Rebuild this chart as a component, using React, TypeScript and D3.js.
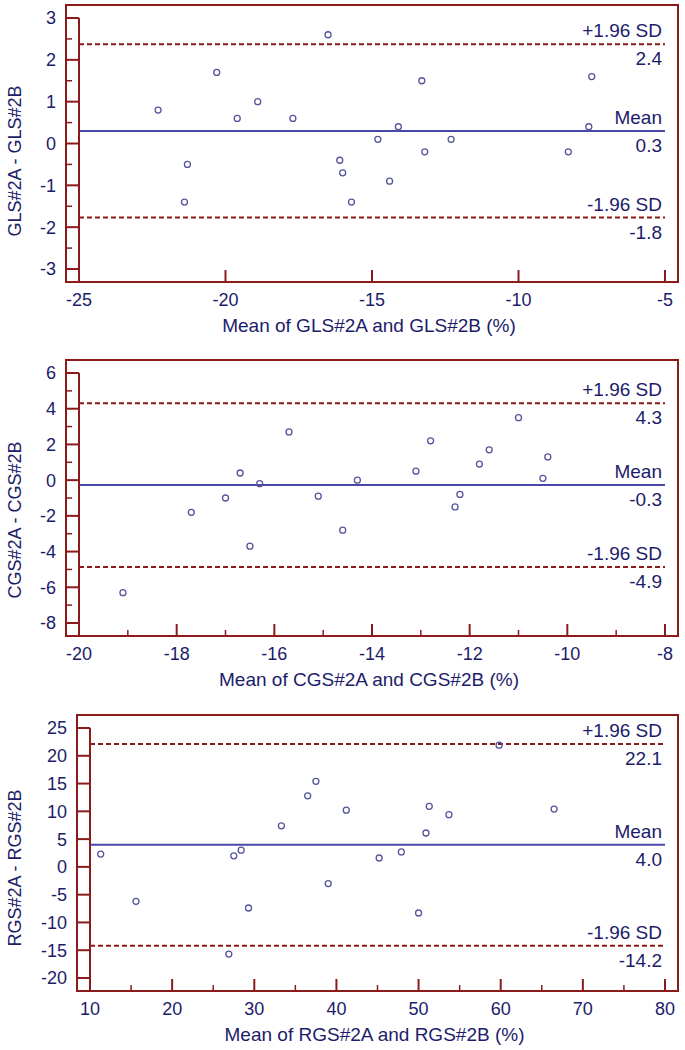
import React from "react";
import { scaleLinear, range } from "d3";

// GLS panel
const glsMean = [-16.5, -20.3, -13.3, -7.5, -22.3, -18.9, -19.6, -17.7, -14.1, -7.6, -14.8, -12.3, -13.2, -8.3, -21.3, -16.1, -16.0, -14.4, -21.4, -15.7];
const glsDiff = [2.6, 1.7, 1.5, 1.6, 0.8, 1.0, 0.6, 0.6, 0.4, 0.4, 0.1, 0.1, -0.2, -0.2, -0.5, -0.4, -0.7, -0.9, -1.4, -1.4];
const glsLimits = [2.37, 0.3, -1.77];

// CGS panel
const cgsMean = [-15.7, -11.0, -12.8, -11.6, -10.4, -11.8, -16.7, -13.1, -10.5, -14.3, -16.3, -17.0, -15.1, -12.2, -12.3, -17.7, -14.6, -16.5, -19.1];
const cgsDiff = [2.7, 3.5, 2.2, 1.7, 1.3, 0.9, 0.4, 0.5, 0.1, 0.0, -0.2, -1.0, -0.9, -0.8, -1.5, -1.8, -2.8, -3.7, -6.3];
const cgsLimits = [4.3, -0.27, -4.87];

// RGS panel
const rgsMean = [59.8, 37.5, 36.5, 41.2, 51.3, 66.5, 53.7, 33.3, 50.9, 11.3, 28.4, 27.5, 47.9, 45.2, 39.0, 15.6, 29.3, 50.0, 26.9];
const rgsDiff = [21.9, 15.4, 12.8, 10.2, 10.9, 10.4, 9.4, 7.4, 6.1, 2.3, 3.0, 2.0, 2.7, 1.6, -3.0, -6.2, -7.4, -8.3, -15.7];
const rgsLimits = [22.1, 4.0, -14.2];

const limitNames = ["+1.96 SD", "Mean", "-1.96 SD"];

const RED = "#8b1a1a";
const NAVY = "#1c1c6a";
const BLUE = "#4848a8";
const PT = "#55559c";
const FONT = "'Liberation Sans', Arial, sans-serif";

type PanelProps = {
  frame: { x0: number; y0: number; x1: number; y1: number };
  xDomain: [number, number];
  yDomain: [number, number];
  xMajor: number[];
  xMinor: number[];
  yMajor: number[];
  yMinor: number[];
  xs: number[];
  ys: number[];
  limits: number[];
  xTitle: string;
  yTitle: string;
  yTitleY: number;
};

const Panel = (p: PanelProps) => {
  const pad = 13;
  const { x0, y0, x1, y1 } = p.frame;
  const x = scaleLinear().domain(p.xDomain).range([x0 + pad, x1 - pad]);
  const y = scaleLinear().domain(p.yDomain).range([y1 - pad, y0 + pad]);
  const right = x(p.xDomain[1]);
  const left = x(p.xDomain[0]);

  return (
    <g fontFamily={FONT} fontSize={18} fill={NAVY}>
      {/* limit lines */}
      {p.limits.map((v, i) => (
        <g key={"l" + i} fontSize={19}>
          <line
            x1={left}
            x2={right}
            y1={y(v)}
            y2={y(v)}
            stroke={i === 1 ? BLUE : RED}
            strokeWidth={2}
            strokeDasharray={i === 1 ? undefined : "5,3"}
          />
          <text x={right - 3} y={y(v) - 7} textAnchor="end">
            {limitNames[i]}
          </text>
          <text x={right - 3} y={y(v) + 21} textAnchor="end">
            {v.toFixed(1)}
          </text>
        </g>
      ))}

      {/* points */}
      {p.xs.map((v, i) => (
        <circle
          key={"p" + i}
          cx={x(v)}
          cy={y(p.ys[i])}
          r={3}
          fill="none"
          stroke={PT}
          strokeWidth={1.3}
        />
      ))}

      {/* frame */}
      <rect
        x={x0}
        y={y0}
        width={x1 - x0}
        height={y1 - y0}
        fill="none"
        stroke={RED}
        strokeWidth={2}
      />
      {/* y spine */}
      <line x1={left} x2={left} y1={y(p.yDomain[1])} y2={y1} stroke={RED} strokeWidth={2} />

      {/* y ticks */}
      {p.yMajor.map((v) => (
        <g key={"ym" + v}>
          <line x1={x0} x2={left} y1={y(v)} y2={y(v)} stroke={RED} strokeWidth={2} />
          <text x={x0 - 10} y={y(v)} dy="0.36em" textAnchor="end">
            {v}
          </text>
        </g>
      ))}
      {p.yMinor.map((v) => (
        <line key={"yn" + v} x1={x0} x2={x0 + 6} y1={y(v)} y2={y(v)} stroke={RED} strokeWidth={1.5} />
      ))}

      {/* x ticks */}
      {p.xMajor.map((v) => (
        <g key={"xm" + v}>
          <line x1={x(v)} x2={x(v)} y1={y1} y2={y1 - 12} stroke={RED} strokeWidth={2} />
          <text x={x(v)} y={y1 + 24} textAnchor="middle">
            {v}
          </text>
        </g>
      ))}
      {p.xMinor.map((v) => (
        <line key={"xn" + v} x1={x(v)} x2={x(v)} y1={y1} y2={y1 - 6} stroke={RED} strokeWidth={1.5} />
      ))}

      <text x={(x0 + x1) / 2 - 3} y={y1 + 50} textAnchor="middle" fontSize={19}>
        {p.xTitle}
      </text>
      <text
        transform={`translate(21,${p.yTitleY}) rotate(-90)`}
        textAnchor="middle"
      >
        {p.yTitle}
      </text>
    </g>
  );
};

export default function App() {
  return (
    <svg
      width={685}
      height={1050}
      style={{ position: "absolute", left: 0, top: 0, background: "#fff" }}
    >
      <rect width={685} height={1050} fill="#fff" />
      <Panel
        frame={{ x0: 66, y0: 5, x1: 678, y1: 282 }}
        xDomain={[-25, -5]}
        yDomain={[-3, 3]}
        xMajor={range(-25, -4, 5)}
        xMinor={[]}
        yMajor={range(-3, 4, 1)}
        yMinor={range(-2.5, 3, 1)}
        xs={glsMean}
        ys={glsDiff}
        limits={glsLimits}
        xTitle="Mean of GLS#2A and GLS#2B (%)"
        yTitle="GLS#2A - GLS#2B"
        yTitleY={161}
      />
      <Panel
        frame={{ x0: 66, y0: 360, x1: 678, y1: 636 }}
        xDomain={[-20, -8]}
        yDomain={[-8, 6]}
        xMajor={range(-20, -7, 2)}
        xMinor={range(-19, -8, 2)}
        yMajor={range(-8, 7, 2)}
        yMinor={range(-7, 6, 2)}
        xs={cgsMean}
        ys={cgsDiff}
        limits={cgsLimits}
        xTitle="Mean of CGS#2A and CGS#2B (%)"
        yTitle="CGS#2A - CGS#2B"
        yTitleY={520}
      />
      <Panel
        frame={{ x0: 77, y0: 715, x1: 678, y1: 991 }}
        xDomain={[10, 80]}
        yDomain={[-20, 25]}
        xMajor={range(10, 81, 10)}
        xMinor={range(15, 80, 10)}
        yMajor={range(-20, 26, 5)}
        yMinor={[]}
        xs={rgsMean}
        ys={rgsDiff}
        limits={rgsLimits}
        xTitle="Mean of RGS#2A and RGS#2B (%)"
        yTitle="RGS#2A - RGS#2B"
        yTitleY={868}
      />
    </svg>
  );
}
